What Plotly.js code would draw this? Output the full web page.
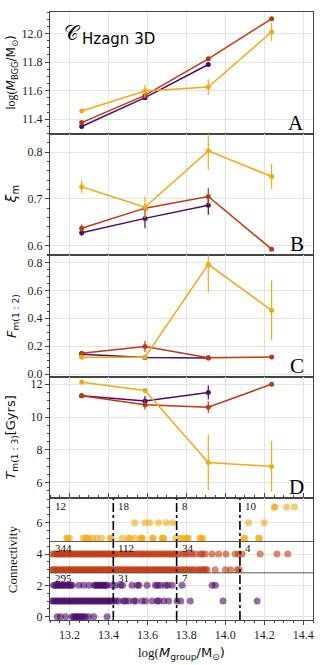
<!DOCTYPE html>
<html><head><meta charset="utf-8">
<script src="https://cdn.plot.ly/plotly-3.0.1.min.js"></script>
<style>html,body{margin:0;padding:0;background:#fff}#chart{width:327px;height:665px}</style>
</head><body><div id="chart"></div>
<script>
// ---- data ----
const xCenters = [13.2625, 13.5875, 13.9125, 14.2375];
const xCentersPurple = [13.2625, 13.5875, 13.9125];
const binEdges = [13.425, 13.75, 14.075];

// Panel A: log(M_BGG)
const mbggYellow = [11.458, 11.597, 11.625, 12.01];
const mbggYellowErr = [0.012, 0.045, 0.055, 0.065];
const mbggRed = [11.377, 11.567, 11.823, 12.102];
const mbggRedErr = [0.01, 0.012, 0.015, 0.01];
const mbggPurple = [11.35, 11.551, 11.783];
const mbggPurpleErr = [0.008, 0.01, 0.012];

// Panel B: xi_m
const xiYellow = [0.726, 0.682, 0.803, 0.748];
const xiYellowErr = [0.014, 0.023, 0.04, 0.027];
const xiRed = [0.637, 0.680, 0.705, 0.592];
const xiRedErr = [0.008, 0.008, 0.018, 0.004];
const xiPurple = [0.627, 0.658, 0.686];
const xiPurpleErr = [0.007, 0.021, 0.02];

// Panel C: F_m(1:2)
const fYellow = [0.12, 0.12, 0.786, 0.457];
const fYellowErr = [0.005, 0.005, 0.2, 0.213];
const fRed = [0.148, 0.197, 0.117, 0.122];
const fRedErr = [0.01, 0.04, 0.008, 0.005];
const fPurple = [0.141, 0.118, 0.115];
const fPurpleErr = [0.005, 0.006, 0.008];

// Panel D: T_m(1:3)
const tYellow = [12.12, 11.61, 7.23, 6.99];
const tYellowErr = [0.05, 0.1, 1.7, 1.55];
const tRed = [11.3, 10.75, 10.6, 12.0];
const tRedErr = [0.1, 0.3, 0.36, 0.05];
const tPurple = [11.3, 10.98, 11.5];
const tPurpleErr = [0.1, 0.3, 0.43];

// Panel E: connectivity of individual groups (x = log M_group)
const conn7 = [14.25, 14.255, 14.315, 14.355];
const conn6 = [13.535, 13.588, 13.612, 13.658, 13.697, 13.73, 14.12, 14.2];
const conn5 = [13.185, 13.19, 13.2, 13.27, 13.285, 13.29, 13.3, 13.32, 13.34, 13.365, 13.41, 13.415,
  13.47, 13.5, 13.51, 13.535, 13.565, 13.57, 13.575, 13.625, 13.63, 13.675, 13.68, 13.685, 13.745,
  13.77, 13.78, 13.80, 13.805, 13.81, 13.87, 13.875, 13.885, 14.095, 14.1, 14.17, 14.175];
const conn4 = [13.112,13.121,13.133,13.139,13.148,13.157,13.166,13.171,13.183,13.192,13.198,13.207,13.216,13.224,13.236,13.241,13.253,13.262,13.268,13.279,13.287,13.296,13.304,13.313,13.322,13.331,13.338,13.349,13.356,13.364,13.373,13.381,13.392,13.398,13.407,13.416,13.423,
  13.431,13.442,13.455,13.468,13.476,13.488,13.497,13.509,13.518,13.531,13.543,13.552,13.566,13.574,13.585,13.597,13.606,13.619,13.628,13.641,13.652,13.664,13.673,13.686,13.695,13.708,13.716,13.728,13.737,13.746,
  13.762,13.781,13.796,13.812,13.829,13.846,13.872,13.881,13.897,13.932,13.966,14.003,14.051,14.068,14.086,14.179,14.265,14.320];
const conn3 = [13.108,13.117,13.126,13.134,13.143,13.155,13.162,13.174,13.181,13.193,13.201,13.209,13.218,13.227,13.238,13.246,13.255,13.263,13.274,13.282,13.291,13.302,13.309,13.318,13.327,13.336,13.347,13.354,13.366,13.372,13.383,13.391,13.401,13.409,13.418,
  13.426,13.437,13.446,13.458,13.467,13.479,13.486,13.498,13.507,13.519,13.528,13.537,13.549,13.558,13.567,13.578,13.589,13.596,13.608,13.617,13.629,13.638,13.647,13.659,13.668,13.677,13.689,13.698,13.707,13.718,13.727,13.738,13.749,
  13.758,13.771,13.783,13.794,13.806,13.818,13.829,13.841,13.857,13.868,13.879,13.891,13.898,13.906,13.948,14.001,14.027,14.061,14.072];
const conn2 = [13.118,13.126,13.135,13.142,13.151,13.158,13.167,13.174,13.183,13.191,13.199,13.208,13.214,13.248,13.272,13.299,13.326,13.334,13.341,13.349,13.356,13.364,13.371,13.379,13.386,13.393,
  13.419,13.436,13.462,13.472,13.521,13.549,13.557,13.598,13.641,13.652,13.667,13.692,13.705,13.727,13.778,13.932,13.949];
const conn1 = [13.109,13.118,13.127,13.134,13.143,13.152,13.161,13.169,13.177,13.186,13.194,13.203,13.211,13.219,13.228,13.236,13.245,13.253,13.262,13.271,13.279,13.288,13.296,13.305,13.313,13.322,13.331,13.339,13.348,13.356,13.365,13.373,13.382,13.391,13.398,13.407,13.415,13.424,
  13.438,13.453,13.478,13.487,13.504,13.53,13.541,13.573,13.59,13.624,13.65,13.658,13.684,13.709,13.752,13.771,13.82,13.988,14.163];
const conn0 = [13.137,13.154,13.181,13.214,13.222,13.231,13.238,13.247,13.256,13.265,13.273,13.282,13.299,13.325,13.393];

const countsYellow = [12, 18, 8, 10];
const countsRed = [344, 112, 34, 4];
const countsPurple = [295, 31, 7];

// ---- styling ----
const cYellow = '#f4a912', cRed = '#c1380e', cPurple = '#4b0c6b';
const serif = 'Liberation Serif, Times New Roman, serif';
const sans = 'DejaVu Sans, sans-serif';

function lineTrace(yaxis, x, y, err, color) {
  return {type:'scatter', mode:'lines+markers', x:x, y:y, xaxis:'x', yaxis:yaxis,
    line:{color:color, width:1.5}, marker:{color:color, size:5},
    error_y:{type:'data', array:err, visible:true, color:color, thickness:1.2, width:0},
    showlegend:false, hoverinfo:'skip'};
}
function dotTrace(xs, row, color) {
  return {type:'scatter', mode:'markers', x:xs, y:xs.map(()=>row), xaxis:'x', yaxis:'y5',
    marker:{color:color, size:7, opacity:0.6, line:{width:0}}, showlegend:false, hoverinfo:'skip'};
}

const traces = [
  lineTrace('y', xCentersPurple, mbggPurple, mbggPurpleErr, cPurple),
  lineTrace('y', xCenters, mbggRed, mbggRedErr, cRed),
  lineTrace('y', xCenters, mbggYellow, mbggYellowErr, cYellow),
  lineTrace('y2', xCentersPurple, xiPurple, xiPurpleErr, cPurple),
  lineTrace('y2', xCenters, xiRed, xiRedErr, cRed),
  lineTrace('y2', xCenters, xiYellow, xiYellowErr, cYellow),
  lineTrace('y3', xCentersPurple, fPurple, fPurpleErr, cPurple),
  lineTrace('y3', xCenters, fRed, fRedErr, cRed),
  lineTrace('y3', xCenters, fYellow, fYellowErr, cYellow),
  lineTrace('y4', xCentersPurple, tPurple, tPurpleErr, cPurple),
  lineTrace('y4', xCenters, tRed, tRedErr, cRed),
  lineTrace('y4', xCenters, tYellow, tYellowErr, cYellow),
  dotTrace(conn7, 7, cYellow), dotTrace(conn6, 6, cYellow), dotTrace(conn5, 5, cYellow),
  dotTrace(conn4, 4, cRed), dotTrace(conn3, 3, cRed),
  dotTrace(conn2, 2, cPurple), dotTrace(conn1, 1, cPurple), dotTrace(conn0, 0, cPurple)
];

const tickfont = {family:serif, size:12, color:'#222'};
function yax(domain, range, dtick, tick0, minorDtick, fmt) {
  return {domain:domain, range:range, dtick:dtick, tick0:tick0, tickformat:fmt, anchor:'x',
    ticks:'outside', ticklen:4, tickcolor:'#444', tickfont:tickfont,
    showgrid:true, gridcolor:'#e3e3e3', gridwidth:1, zeroline:false,
    showline:true, linecolor:'#444', linewidth:1, mirror:true,
    minor:{ticks:'outside', dtick:minorDtick, ticklen:2, tickcolor:'#444', showgrid:false}};
}

const annotations = [];
function yTitle(yref, text, font) {
  annotations.push({xref:'paper', yref:yref + ' domain', x:0, y:0.5, xshift:-38, xanchor:'center', yanchor:'middle',
    textangle:-90, showarrow:false, text:text, font:font});
}
const tf = {family:sans, size:12, color:'#111'};
yTitle('y', '<span style="font-family:Liberation Serif">log(</span><i>M</i><sub>BGG</sub>/M<sub>⊙</sub>)', tf);
yTitle('y2', '<i>ξ</i><sub>m</sub>', {family:sans, size:14, color:'#111'});
yTitle('y3', '<i>F</i><sub>m(1 : 2)</sub>', {family:sans, size:13, color:'#111'});
yTitle('y4', '<i>T</i><sub>m(1 : 3)</sub>[Gyrs]', {family:sans, size:13, color:'#111'});
yTitle('y5', 'Connectivity', {family:serif, size:13, color:'#111'});

annotations.push({xref:'paper', yref:'paper', x:0.5, y:0, yshift:-33, xanchor:'center', yanchor:'middle', showarrow:false,
  text:'<span style="font-family:Liberation Serif">log(</span><i>M</i><sub>group</sub>/M<sub>⊙</sub>)', font:{family:sans, size:13, color:'#111'}});

// panel letters
['y','y2','y3','y4'].forEach((ax, i) => {
  annotations.push({xref:'x domain', yref:ax + ' domain', x:0.973, y:0.09, xanchor:'right', yanchor:'middle', showarrow:false,
    text:'ABCD'[i], font:{family:serif, size:21, color:'#000'}});
});

// sample label
annotations.push({xref:'x domain', yref:'y domain', x:0.045, y:0.83, xanchor:'left', yanchor:'middle', showarrow:false,
  text:'𝒞', font:{family:'DejaVu Serif, serif', size:20, color:'#000'}});
annotations.push({xref:'x domain', yref:'y domain', x:0.114, y:0.78, xanchor:'left', yanchor:'middle', showarrow:false,
  text:'Hzagn 3D', font:{family:sans, size:15, color:'#000'}});

// counts
const leftEdges = [13.1].concat(binEdges);
function counts(arr, yv) {
  arr.forEach((c, i) => annotations.push({xref:'x', yref:'y5', x:leftEdges[i], y:yv, xshift:3, xanchor:'left', yanchor:'middle',
    showarrow:false, text:String(c), font:{family:serif, size:11, color:'#111'}}));
}
counts(countsYellow, 7.06);
counts(countsRed, 4.38);
counts(countsPurple, 2.44);

const shapes = [];
binEdges.forEach(e => shapes.push({type:'line', xref:'x', yref:'y5 domain', x0:e, x1:e, y0:0, y1:1,
  line:{color:'#000', width:1.6, dash:'dashdot'}}));
[4.8, 2.8].forEach(v => shapes.push({type:'line', xref:'x domain', yref:'y5', x0:0, x1:1, y0:v, y1:v,
  line:{color:'#555', width:1}}));

const layout = {
  width:327, height:665, margin:{l:50, r:14, t:12, b:45},
  paper_bgcolor:'#fff', plot_bgcolor:'#fff', showlegend:false,
  xaxis:{domain:[0,1], anchor:'y5', range:[13.1, 14.45], dtick:0.2, tick0:13.2, tickformat:'.1f',
    ticks:'outside', ticklen:4, tickcolor:'#444', tickfont:tickfont,
    showgrid:true, gridcolor:'#e3e3e3', zeroline:false,
    showline:true, linecolor:'#444', linewidth:1, mirror:'all',
    minor:{ticks:'outside', dtick:0.05, ticklen:2, tickcolor:'#444', showgrid:false}},
  yaxis: yax([0.8,1], [11.30, 12.15], 0.2, 11.4, 0.05, '.1f'),
  yaxis2: yax([0.6,0.8], [0.579, 0.840], 0.1, 0.6, 0.02, '.1f'),
  yaxis3: yax([0.4,0.6], [-0.02, 0.852], 0.2, 0, 0.05, '.1f'),
  yaxis4: yax([0.2,0.4], [5.04, 12.45], 2, 6, 0.5, 'd'),
  yaxis5: yax([0,0.2], [-0.21, 7.55], 2, 0, 0.5, 'd'),
  annotations:annotations, shapes:shapes
};

Plotly.newPlot('chart', traces, layout, {displayModeBar:false, staticPlot:true});
</script>
</body></html>
